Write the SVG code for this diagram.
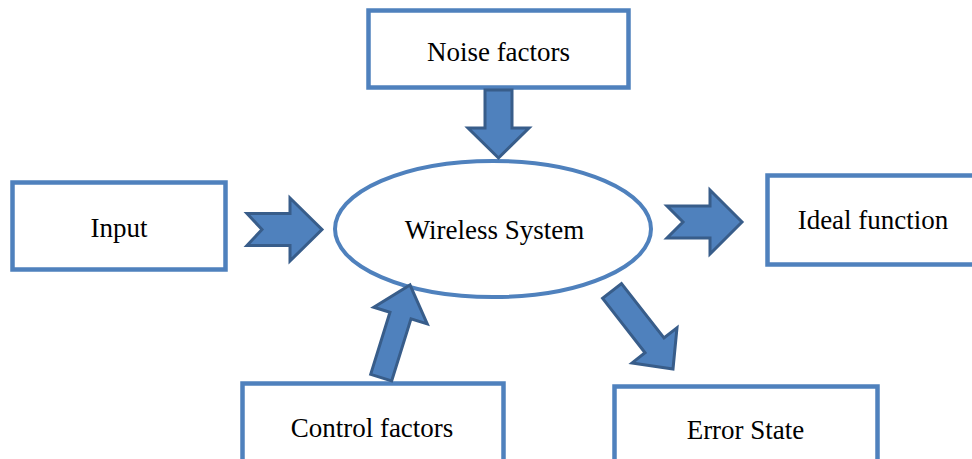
<svg xmlns="http://www.w3.org/2000/svg" width="972" height="459" viewBox="0 0 972 459">
<style>
.box{fill:#fff;stroke:#4F81BD;stroke-width:4.5}
.ell{fill:#fff;stroke:#4F81BD;stroke-width:4}
.arr{fill:#4F81BD;stroke:#385D8A;stroke-width:3;stroke-linejoin:miter}
.t{font-family:"Liberation Serif","Times New Roman",serif;font-size:27px;fill:#000;text-anchor:middle}
</style>
<rect width="972" height="459" fill="#fff"/>
<g id="noise">
<rect class="box" x="368.5" y="10.5" width="260" height="77"/>
<text class="t" x="498.5" y="61">Noise factors</text>
</g>
<g id="input">
<rect class="box" x="12.5" y="182.5" width="213" height="87"/>
<text class="t" x="119" y="237">Input</text>
</g>
<g id="ideal">
<rect class="box" x="767.5" y="175.5" width="215" height="89"/>
<text class="t" x="873" y="229">Ideal function</text>
</g>
<g id="control">
<rect class="box" x="242.5" y="383.5" width="261" height="90"/>
<text class="t" x="372" y="437">Control factors</text>
</g>
<g id="error">
<rect class="box" x="614.5" y="386.5" width="263" height="90"/>
<text class="t" x="745.5" y="439">Error State</text>
</g>
<g id="system">
<ellipse class="ell" cx="493" cy="229" rx="158" ry="68"/>
<text class="t" x="494.5" y="239">Wireless System</text>
</g>
<g id="connectors">
<polygon class="arr" points="247,213.5 290,213.5 290,198 322,229.5 290,261 290,245.5 247,245.5 262,229.5"/>
<polygon class="arr" points="667,206 710,206 710,190 742,222 710,254 710,238 667,238 683,222"/>
<polygon class="arr" points="485,90 512,90 512,128 529,128 498.5,158 468,128 485,128"/>
<polygon class="arr" transform="translate(410,285) rotate(-72.7)" points="-97,-11 -32,-11 -32,-28 0,0 -32,28 -32,11 -97,11"/>
<polygon class="arr" transform="translate(673,369) rotate(52)" points="-99,-12 -30,-12 -30,-28.5 0,0 -30,28.5 -30,12 -99,12"/>
</g>
</svg>
